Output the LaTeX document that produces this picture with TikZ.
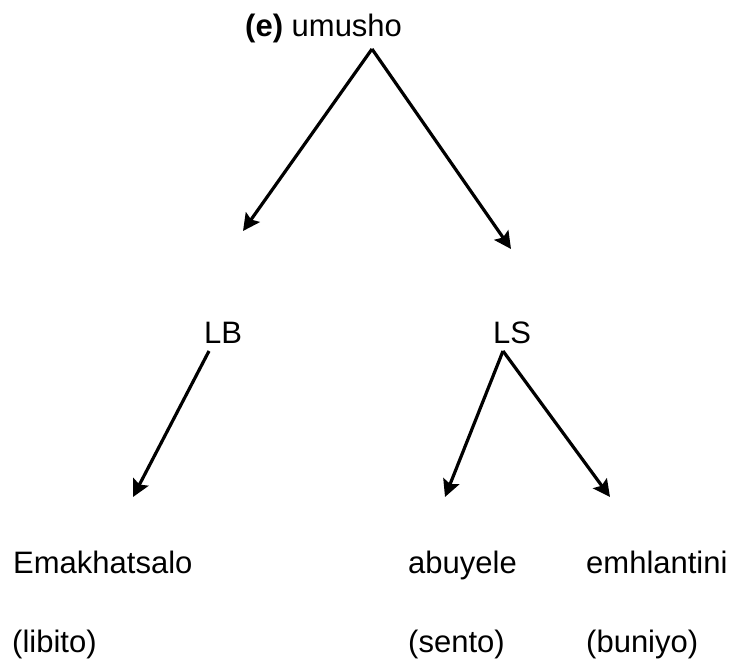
\documentclass[tikz,border=0pt]{standalone}
\usepackage{fontspec}
\setmainfont{Liberation Sans}
\usetikzlibrary{arrows.meta}
\begin{document}
\begin{tikzpicture}[x=1pt,y=-1pt,
  lbl/.style={anchor=base west,inner sep=0pt,font=\fontsize{31}{37}\selectfont},
  arr/.style={line width=3.2pt,-{Stealth[length=17pt,width=17pt,inset=3pt]}}]
\useasboundingbox (0,0) rectangle (741,660);
\node[lbl] (root) at (245,37) {\textbf{(e)} umusho};
\node[lbl] (lb) at (204,343) {LB};
\node[lbl] (ls) at (493,343) {LS};
\node[lbl] (ema) at (13,573) {Emakhatsalo};
\node[lbl] (abu) at (408,573) {abuyele};
\node[lbl] (emh) at (586,573) {emhlantini};
\node[lbl] (lib) at (12,652) {(libito)};
\node[lbl] (sen) at (408,652) {(sento)};
\node[lbl] (bun) at (586,652) {(buniyo)};
\coordinate (rootapex) at (372,49);
\coordinate (lbtip) at (243,231);
\coordinate (lstip) at (511,249);
\coordinate (lbapex) at (209,351);
\coordinate (ematip) at (133,497);
\coordinate (lsapex) at (503,351);
\coordinate (abutip) at (445,497);
\coordinate (emhtip) at (610,497);
\draw[arr] (rootapex) -- (lbtip);
\draw[arr] (rootapex) -- (lstip);
\draw[arr] (lbapex) -- (ematip);
\draw[arr] (lsapex) -- (abutip);
\draw[arr] (lsapex) -- (emhtip);
\end{tikzpicture}
\end{document}
